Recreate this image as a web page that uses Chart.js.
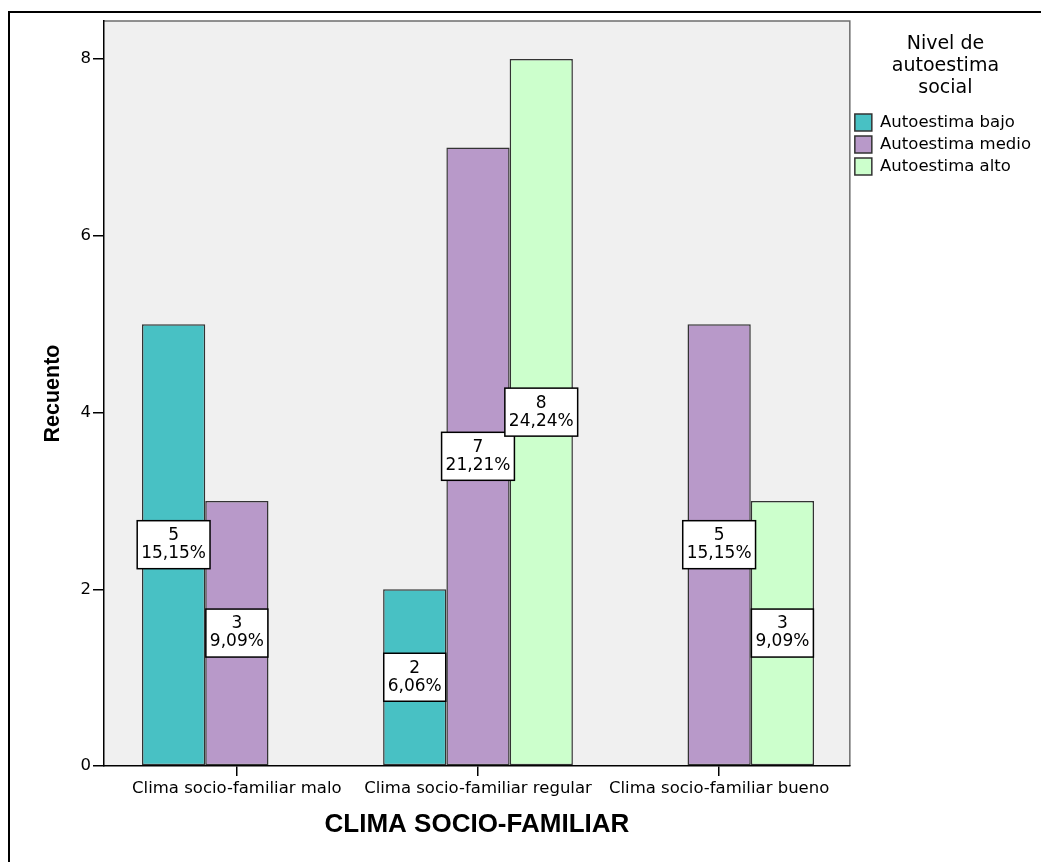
<!DOCTYPE html>
<html>
<head>
<meta charset="utf-8">
<title>Clima socio-familiar</title>
<script src="https://cdn.jsdelivr.net/npm/chart.js@4.4.1/dist/chart.umd.min.js"></script>
<style>
  html, body { margin: 0; padding: 0; background: #fff; overflow: hidden; }
  #marco {
    position: absolute; left: 8px; top: 11px; right: 0; bottom: 0;
    border-left: 2px solid #000; border-top: 2px solid #000;
  }
  #caja { position: absolute; left: 0; top: 0; width: 1041px; height: 862px; }
</style>
</head>
<body>
<div id="marco"></div>
<div id="caja"><canvas id="graficoClima"></canvas></div>
<script>
// Datos del grafico (recuentos)
const categorias = [
  "Clima socio-familiar malo",
  "Clima socio-familiar regular",
  "Clima socio-familiar bueno"
];
const autoestimaBajo = [5, 2, null];
const autoestimaMedio = [3, 7, 5];
const autoestimaAlto = [null, 8, 3];
const ticksY = [0, 2, 4, 6, 8];

const total = [autoestimaBajo, autoestimaMedio, autoestimaAlto]
  .flat()
  .reduce((a, b) => a + (b || 0), 0);

function aPuntos(serie) {
  return serie.map((v, i) => ({ x: i, y: v }));
}

// fondo gris del area del grafico
const fondoPlugin = {
  id: "fondo",
  beforeDraw(chart) {
    const { ctx, chartArea: a } = chart;
    ctx.save();
    ctx.fillStyle = "#f0f0f0";
    ctx.fillRect(a.left, a.top, a.right - a.left, a.bottom - a.top);
    ctx.strokeStyle = "#6e6e6e";
    ctx.lineWidth = 1.5;
    ctx.beginPath();
    ctx.moveTo(a.left, a.top);
    ctx.lineTo(a.right, a.top);
    ctx.lineTo(a.right, a.bottom);
    ctx.stroke();
    ctx.restore();
  }
};

// etiquetas con recuento y porcentaje
const etiquetasPlugin = {
  id: "etiquetas",
  afterDatasetsDraw(chart) {
    const ctx = chart.ctx;
    ctx.save();
    ctx.font = '17px "DejaVu Sans"';
    ctx.textAlign = "center";
    ctx.textBaseline = "middle";
    chart.data.datasets.forEach((ds, di) => {
      chart.getDatasetMeta(di).data.forEach((barra, i) => {
        const v = ds.data[i].y;
        if (v === null || v === undefined) return;
        const linea1 = String(v);
        const linea2 = (v / total * 100).toFixed(2).replace(".", ",") + "%";
        const ancho = Math.max(ctx.measureText(linea1).width, ctx.measureText(linea2).width) + 8;
        const alto = 48;
        const cx = barra.x;
        const cy = (barra.y + barra.base) / 2;
        ctx.fillStyle = "#ffffff";
        ctx.fillRect(cx - ancho / 2, cy - alto / 2, ancho, alto);
        ctx.strokeStyle = "#000000";
        ctx.lineWidth = 1.5;
        ctx.strokeRect(cx - ancho / 2, cy - alto / 2, ancho, alto);
        ctx.fillStyle = "#000000";
        ctx.fillText(linea1, cx, cy - 9);
        ctx.fillText(linea2, cx, cy + 9);
      });
    });
    ctx.restore();
  }
};

document.addEventListener("DOMContentLoaded", function () {
  const ctx = document.getElementById("graficoClima").getContext("2d");

  new Chart(ctx, {
    type: "bar",
    data: {
      datasets: [
        {
          label: "Autoestima bajo",
          data: aPuntos(autoestimaBajo),
          backgroundColor: "#48c1c4",
          borderColor: "#333333",
          borderWidth: 1.5,
          borderSkipped: false
        },
        {
          label: "Autoestima medio",
          data: aPuntos(autoestimaMedio),
          backgroundColor: "#b899c9",
          borderColor: "#333333",
          borderWidth: 1.5,
          borderSkipped: false
        },
        {
          label: "Autoestima alto",
          data: aPuntos(autoestimaAlto),
          backgroundColor: "#ccffcc",
          borderColor: "#333333",
          borderWidth: 1.5,
          borderSkipped: false
        }
      ]
    },
    options: {
      responsive: true,
      maintainAspectRatio: false,
      animation: false,
      categoryPercentage: 0.787,
      barPercentage: 1,
      layout: {
        padding: { left: 36, top: 21, right: 0, bottom: 18 }
      },
      plugins: {
        tooltip: { enabled: false },
        legend: {
          position: "right",
          align: "start",
          title: {
            display: true,
            text: ["Nivel de", "autoestima", "social"],
            color: "#000",
            font: { family: "DejaVu Sans", size: 19, lineHeight: "22px" },
            padding: { top: 14, bottom: 52 }
          },
          labels: {
            color: "#000",
            font: { family: "DejaVu Sans", size: 16.5 },
            boxWidth: 17,
            boxHeight: 17,
            padding: 5
          }
        }
      },
      scales: {
        x: {
          type: "linear",
          offset: false,
          min: -0.551,
          max: 2.542,
          afterFit: (s) => { s.height = 78; },
          afterBuildTicks: (s) => { s.ticks = categorias.map((c, i) => ({ value: i })); },
          ticks: {
            color: "#000",
            font: { family: "DejaVu Sans", size: 16.5 },
            autoSkip: false,
            maxRotation: 0,
            padding: 3,
            callback: (v) => categorias[v]
          },
          grid: {
            offset: false,
            drawOnChartArea: false,
            drawTicks: true,
            tickLength: 10,
            color: "#000",
            lineWidth: 1.5
          },
          border: { color: "#000", width: 1.5 },
          title: {
            display: true,
            text: "CLIMA SOCIO-FAMILIAR",
            color: "#000",
            font: { family: "Liberation Sans", size: 26, weight: "bold" }
          }
        },
        y: {
          min: 0,
          max: 8.43,
          afterFit: (s) => { s.width = 68; },
          afterBuildTicks: (s) => { s.ticks = ticksY.map((v) => ({ value: v })); },
          ticks: {
            color: "#000",
            font: { family: "DejaVu Sans", size: 16.5 },
            padding: 2
          },
          grid: {
            drawOnChartArea: false,
            drawTicks: true,
            tickLength: 11,
            color: "#000",
            lineWidth: 1.5
          },
          border: { color: "#000", width: 1.5 },
          title: {
            display: true,
            text: "Recuento",
            color: "#000",
            font: { family: "Liberation Sans", size: 21.5, weight: "bold" }
          }
        }
      }
    },
    plugins: [fondoPlugin, etiquetasPlugin]
  });
});
</script>
</body>
</html>
